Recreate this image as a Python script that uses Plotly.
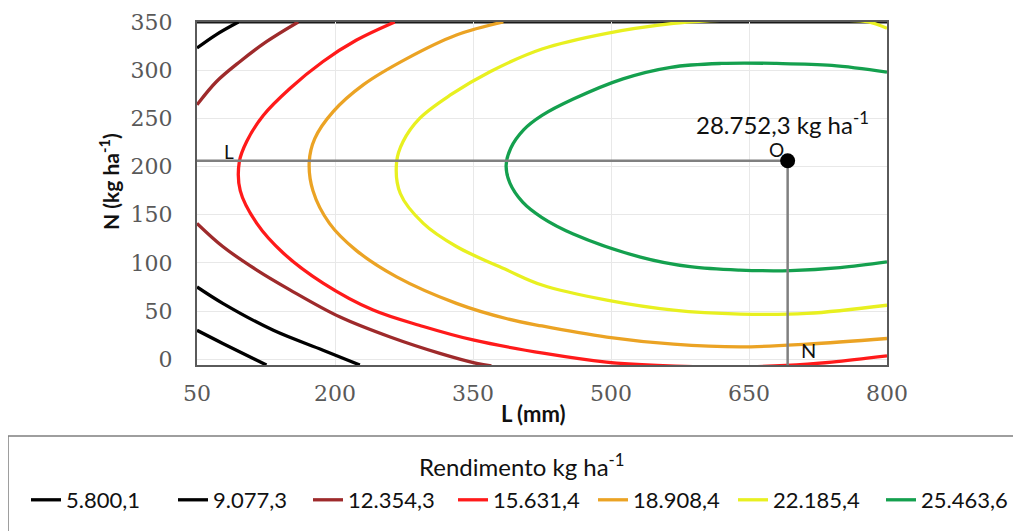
import plotly.graph_objects as go

# ---------------- data ----------------
LEVEL_LABELS = ["5.800,1", "9.077,3", "12.354,3", "15.631,4", "18.908,4", "22.185,4", "25.463,6"]
LEVEL_COLORS = ["#000000", "#000000", "#9E2A2B", "#FF1A1A", "#EBA324", "#E8F020", "#14A04E"]

# contour 5.800,1
c5800_L = [50, 78, 125.5]
c5800_N = [30, 16.4, -6]

# contour 9.077,3 (two branches)
c9077_L = [50, 71, 95, None, 50, 78, 133, 187, 227]
c9077_N = [323, 337, 350, None, 75, 58, 30, 9.4, -6]

# contour 12.354,3 (two branches)
c12354_L = [160, 125.5, 96.5, 71, 50, None, 50, 78, 115, 151, 205, 260, 314, 354, 370]
c12354_N = [350, 329.6, 308.8, 288, 264, None, 141, 117, 92.5, 72, 44, 23, 6, -4.4, -7]

# contour 15.631,4
c15631_L = [265, 223, 187, 151, 122, 104, 96, 97, 115, 144, 187, 241.5, 296, 350, 428, 495, 550, 620, 690, 740, 800]
c15631_N = [350, 331, 309, 281, 253, 226, 205, 175, 141, 110, 79, 51, 34, 20, 6, -3, -6.5, -8, -6.5, -3, 3.5]

# contour 18.908,4
c18908_L = [383, 332, 278, 231, 198, 178, 172, 176, 194, 223, 267, 332, 387, 425, 495.5, 568, 640.5, 713, 800]
c18908_N = [350, 336.5, 312, 285, 257, 229, 205, 175, 141, 113, 85.5, 58, 42, 34.5, 23, 15.6, 12.8, 15.6, 21.5]

# contour 22.185,4
c22185_L = [800, 780, 750, 700, 650, 600, 568, 495.5, 425, 368.5, 325, 292, 274, 267, 271, 296, 332, 387, 425, 495.5, 568, 640.5, 713, 800]
c22185_N = [343.5, 350, 352, 353, 352.5, 351, 348.6, 338.3, 322, 298.4, 274, 250, 226, 205, 172, 141, 117, 92.5, 77, 61.3, 50.9, 46.8, 47.5, 56]

# contour 25.463,6
c25463_L = [800, 740, 680, 620, 565, 513, 459, 425, 405, 391, 386, 390, 404, 425, 459, 532, 586, 640, 695, 749, 800]
c25463_N = [298, 305, 307, 307, 303, 291, 270, 253, 238, 219, 201, 183, 163, 147, 130, 106, 96, 92.5, 92, 95, 101]

CONTOURS_L = [c5800_L, c9077_L, c12354_L, c15631_L, c18908_L, c22185_L, c25463_L]
CONTOURS_N = [c5800_N, c9077_N, c12354_N, c15631_N, c18908_N, c22185_N, c25463_N]

# optimum point
OPT_L = 692
OPT_N = 206
OPT_LABEL = "28.752,3 kg ha<sup>-1</sup>"

X_TICKS = [50, 200, 350, 500, 650, 800]
Y_TICKS = [0, 50, 100, 150, 200, 250, 300, 350]
X_RANGE = [50, 800]
Y_RANGE = [-6, 350]

# ---------------- layout geometry ----------------
W, H = 1021, 531
ML, MR, MT, MB = 189, 142, 14, 174
PW = W - ML - MR
PH = H - MT - MB


def px_x(px):  # figure pixel -> paper x
    return (px - ML) / PW


def px_y(py):  # figure pixel -> paper y
    return (H - MB - py) / PH


TXT_FONT = "Lato, 'Open Sans', sans-serif"

# ---------------- figure ----------------
fig = go.Figure()

LEGEND_IDS = ["legend"] + ["legend%d" % i for i in range(2, 8)]
for lab, col, xs, ys, lid in zip(LEVEL_LABELS, LEVEL_COLORS, CONTOURS_L, CONTOURS_N, LEGEND_IDS):
    fig.add_trace(go.Scatter(
        x=xs, y=ys, mode="lines", name=lab, legend=lid,
        line=dict(color=col, width=3.3, shape="spline", smoothing=1.0),
        connectgaps=False, hoverinfo="skip",
    ))

GRAY = "#808080"
fig.add_trace(go.Scatter(x=[X_RANGE[0], OPT_L], y=[OPT_N, OPT_N], mode="lines",
                         line=dict(color=GRAY, width=2.5), showlegend=False, hoverinfo="skip"))
fig.add_trace(go.Scatter(x=[OPT_L, OPT_L], y=[OPT_N, Y_RANGE[0]], mode="lines",
                         line=dict(color=GRAY, width=2.5), showlegend=False, hoverinfo="skip"))
fig.add_trace(go.Scatter(x=[OPT_L], y=[OPT_N], mode="markers",
                         marker=dict(color="black", size=15), showlegend=False, hoverinfo="skip"))

fig.add_annotation(x=85, y=216, text="L", showarrow=False, font=dict(family=TXT_FONT, size=19, color="#111"))
fig.add_annotation(x=680, y=218, text="O", showarrow=False, font=dict(family=TXT_FONT, size=19, color="#111"))
fig.add_annotation(x=715, y=10, text="N", showarrow=False, font=dict(family=TXT_FONT, size=20, color="#111"))
fig.add_annotation(x=686, y=245, text=OPT_LABEL, showarrow=False, font=dict(family=TXT_FONT, size=24, color="#111"))

# axis titles
fig.add_annotation(xref="paper", yref="paper", x=px_x(101), y=px_y(174), text="<b>N (kg ha<sup>-1</sup>)</b>",
                   textangle=-90, showarrow=False, font=dict(family=TXT_FONT, size=21, color="#111"),
                   xanchor="center", yanchor="middle")
fig.add_annotation(xref="paper", yref="paper", x=px_x(525), y=px_y(405), text="<b>L (mm)</b>",
                   showarrow=False, font=dict(family=TXT_FONT, size=22, color="#111"),
                   xanchor="center", yanchor="middle")

# legend title
fig.add_annotation(xref="paper", yref="paper", x=px_x(514), y=px_y(457), text="Rendimento kg ha<sup>-1</sup>",
                   showarrow=False, font=dict(family=TXT_FONT, size=24, color="#111"),
                   xanchor="center", yanchor="middle")

# legend frame
fig.add_shape(type="rect", xref="paper", yref="paper", x0=px_x(0), x1=px_x(1030), y0=px_y(428), y1=px_y(540),
              line=dict(color="#7F7F7F", width=1.5), fillcolor="rgba(0,0,0,0)", layer="below")
# dark top frame line
fig.add_shape(type="line", xref="paper", yref="paper", x0=0, x1=1, y0=1, y1=1,
              line=dict(color="#1A1A1A", width=3), layer="below")

TICK_FONT = dict(family="'DejaVu Serif', serif", size=22, color="#595959")
fig.update_xaxes(range=X_RANGE, tickvals=X_TICKS, showgrid=True, gridcolor="#E8E8E8", gridwidth=1,
                 showline=True, mirror=True, linecolor="#5A5A5A", linewidth=2, zeroline=False,
                 tickfont=TICK_FONT, ticks="", ticklabelstandoff=8)
fig.update_yaxes(range=Y_RANGE, tickvals=Y_TICKS, showgrid=True, gridcolor="#E8E8E8", gridwidth=1,
                 showline=True, mirror=True, linecolor="#5A5A5A", linewidth=2, zeroline=False,
                 tickfont=TICK_FONT, ticks="", ticklabelstandoff=18)

# one legend per level, placed where each entry sits in the reference
TEXT_STARTS = [64, 211, 346, 491, 631, 771, 919]
legend_layout = {}
for lid, ts in zip(LEGEND_IDS, TEXT_STARTS):
    legend_layout[lid] = dict(
        orientation="h", x=px_x(ts - 46), xanchor="left", y=px_y(492), yanchor="middle",
        font=dict(family=TXT_FONT, size=22, color="#111"),
        bgcolor="rgba(0,0,0,0)", borderwidth=0, itemwidth=30,
    )

fig.update_layout(
    width=W, height=H,
    margin=dict(l=ML, r=MR, t=MT, b=MB, autoexpand=False),
    paper_bgcolor="white", plot_bgcolor="white",
    **legend_layout,
)

fig.write_html("out.html")
